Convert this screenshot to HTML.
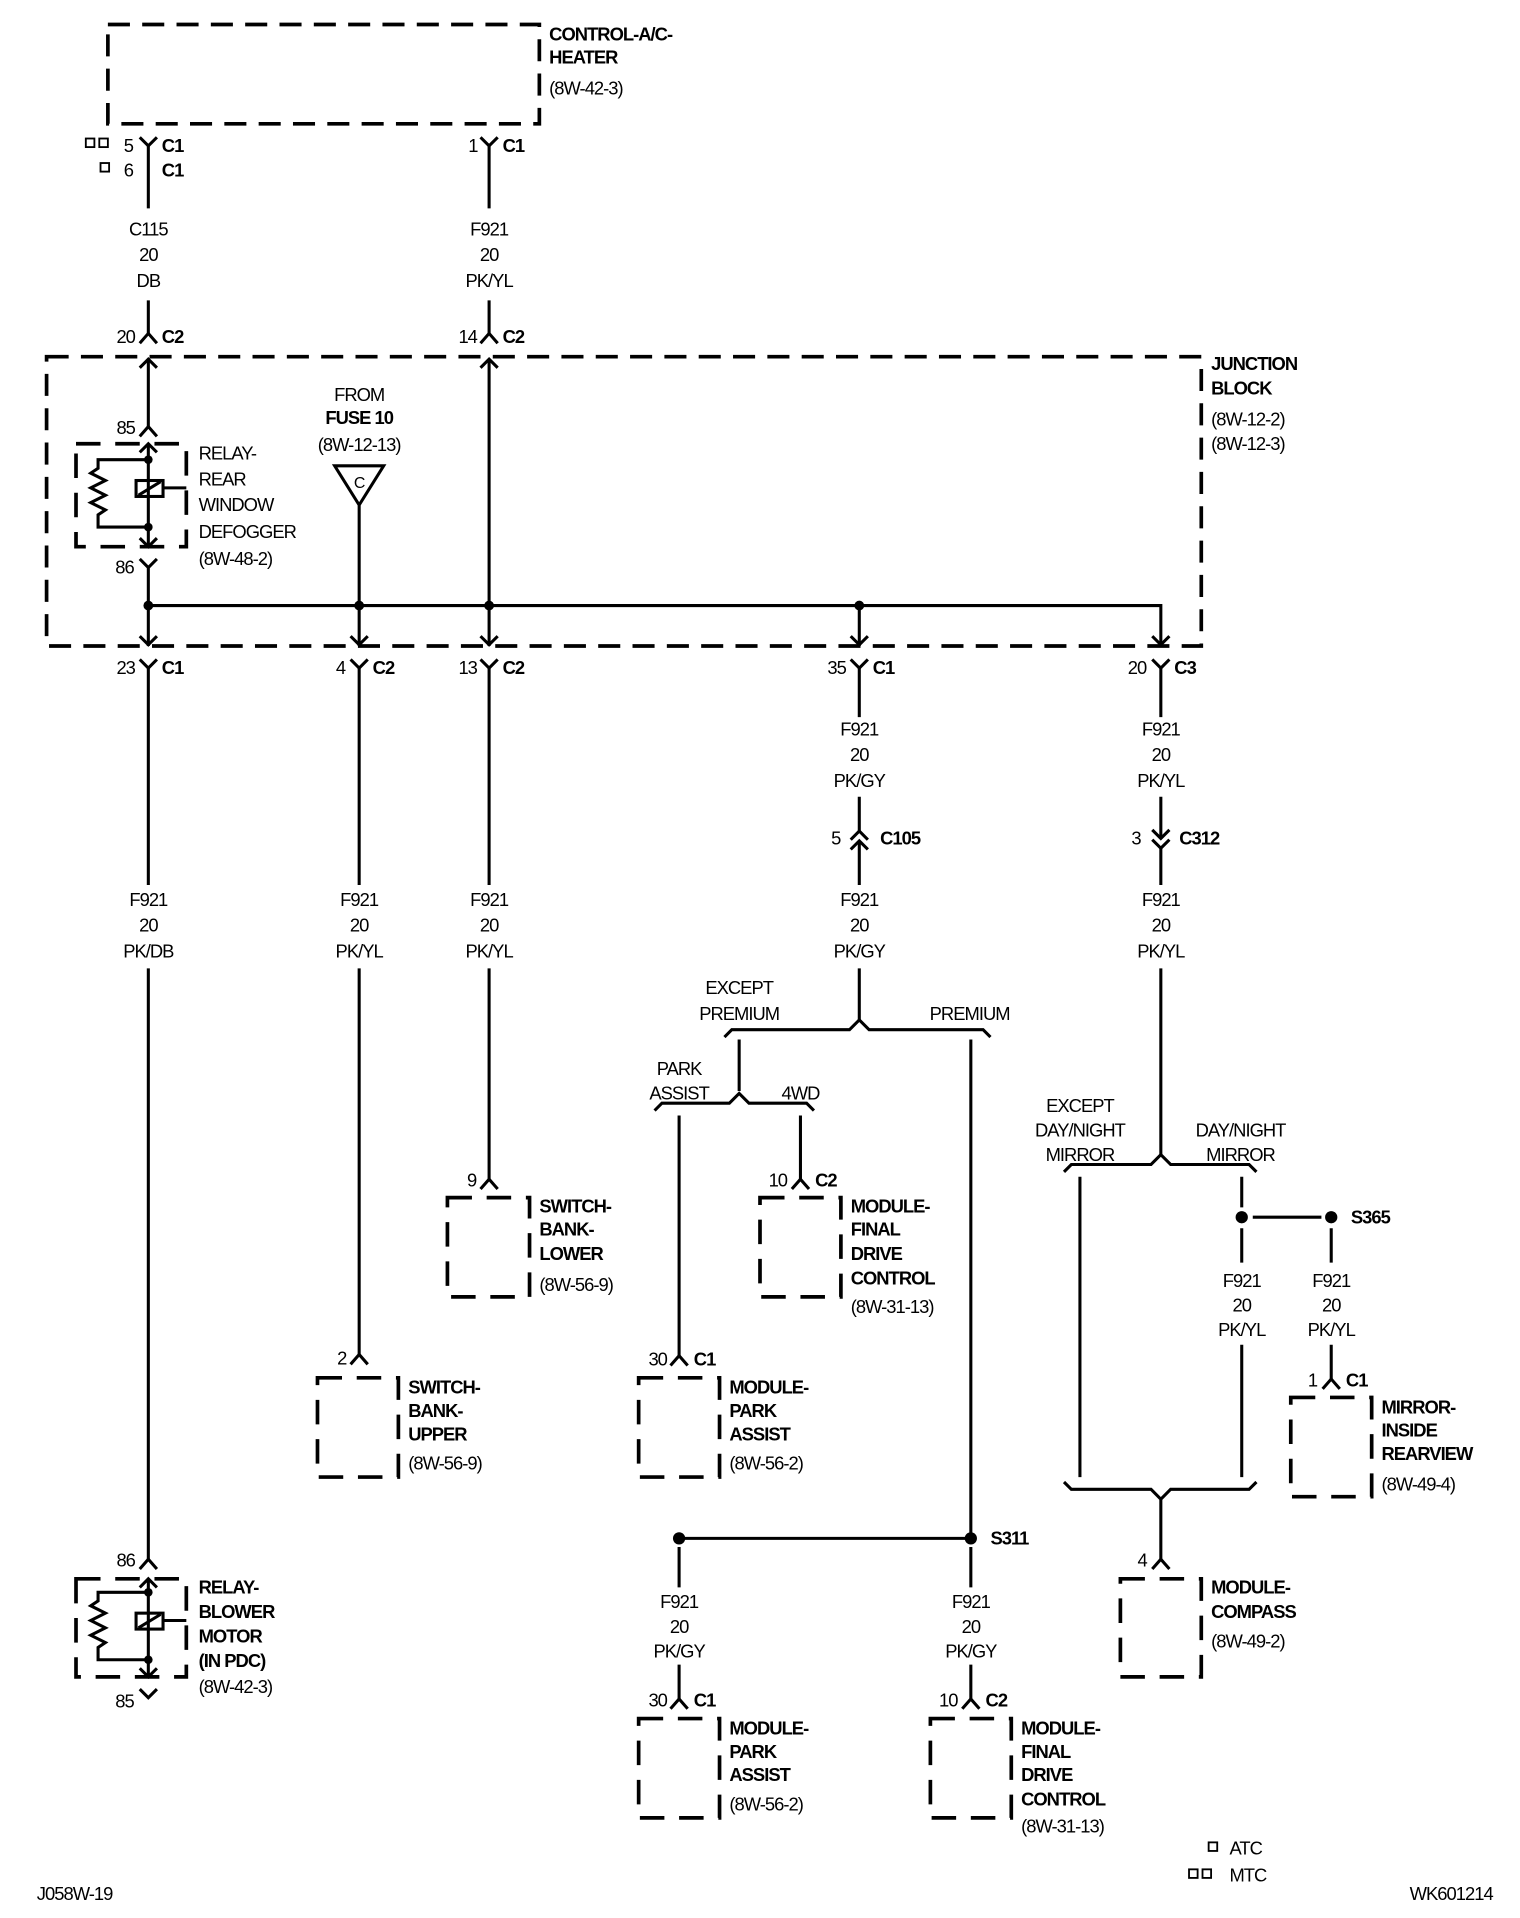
<!DOCTYPE html>
<html><head><meta charset="utf-8"><style>
html,body{margin:0;padding:0;background:#fff}
svg{display:block}
text{font-family:"Liberation Sans",Arial,sans-serif;font-size:15px;fill:#000;letter-spacing:-0.8px}
.b{font-weight:bold}
.c{text-anchor:middle}
</style></head><body>
<svg width="1520" height="1918" viewBox="0 0 1240 1564.7" xmlns="http://www.w3.org/2000/svg">
<g fill="none" stroke="#000" stroke-width="2.5">
<rect x="88" y="20" width="352" height="81" stroke-width="3" stroke-dasharray="18 10"/>
<rect x="38" y="291" width="942" height="236" stroke-width="3" stroke-dasharray="18 10"/>
<g stroke-width="3" stroke-dasharray="20 12">
<rect x="62" y="362" width="90" height="84"/>
<rect x="62" y="1288" width="90" height="80"/>
<rect x="259" y="1124" width="66" height="81"/>
<rect x="365" y="977" width="67" height="81"/>
<rect x="620" y="977" width="66" height="81"/>
<rect x="521" y="1124" width="66" height="81"/>
<rect x="521" y="1402" width="66" height="81"/>
<rect x="759" y="1402" width="66" height="81"/>
<rect x="1053" y="1140" width="66" height="81"/>
<rect x="914" y="1288" width="66" height="80"/>
</g>
<!-- top wires -->
<path d="M121,119 V170 M121,245 V272 M121,293 V348 M399,119 V170 M399,245 V272 M399,293 V527"/>
<path d="M114,112 L121,119 L128,112 M392,112 L399,119 L406,112"/>
<path d="M114,280 L121,272 L128,280 M392,280 L399,272 L406,280"/>
<path d="M114,300 L121,293 L128,300 M392,300 L399,293 L406,300"/>
<path d="M114,356 L121,348 L128,356"/>
<!-- relay top -->
<path d="M121,362 V446 M114,369 L121,362 L128,369 M114,439 L121,446 L128,439"/>
<path d="M121,375 H80 L80,382 L74,386 L86,392 L74,398 L86,404 L74,410 L86,416 L80,420 V430 H121"/>
<rect x="111" y="392" width="22" height="13"/>
<path d="M113,404 L131,393 M133,398 H152"/>
<path d="M114,456 L121,463 L128,456 M121,463 V527"/>
<path d="M273,380 H313 L293,412 Z M293,412 V527"/>
<path d="M121,494 H947 V527 M701,494 V527"/>
<path d="M114,519 L121,526 L128,519 M286,519 L293,526 L300,519 M392,519 L399,526 L406,519 M694,519 L701,526 L708,519 M940,519 L947,526 L954,519"/>
<path d="M114,538 L121,545 L128,538 M286,538 L293,545 L300,538 M392,538 L399,545 L406,538 M694,538 L701,545 L708,538 M940,538 L947,545 L954,538"/>
<path d="M121,545 V722 M121,790 V1272 M293,545 V722 M293,790 V1105 M399,545 V722 M399,790 V962"/>
<path d="M701,545 V585 M701,650 V678 M701,686 V722 M701,790 V832 M947,545 V585 M947,650 V684 M947,692 V722 M947,790 V942"/>
<path d="M694,685 L701,678 L708,685 M694,693 L701,686 L708,693"/>
<path d="M940,677 L947,684 L954,677 M940,685 L947,692 L954,685"/>
<path d="M114,1280 L121,1272 L128,1280 M286,1113 L293,1105 L300,1113 M392,970 L399,962 L406,970 M547,1114 L554,1106 L561,1114 M646,970 L653,962 L660,970 M547,1394 L554,1386 L561,1394 M785,1394 L792,1386 L799,1394 M1079,1133 L1086,1125 L1093,1133 M940,1280 L947,1272 L954,1280"/>
<path d="M121,1288 V1368 M114,1295 L121,1288 L128,1295 M114,1361 L121,1368 L128,1361"/>
<path d="M121,1299 H80 L80,1306 L74,1310 L86,1316 L74,1322 L86,1328 L74,1334 L86,1340 L80,1344 V1354 H121"/>
<rect x="111" y="1316" width="22" height="13"/>
<path d="M113,1328 L131,1317 M133,1322 H152"/>
<path d="M114,1378 L121,1385 L128,1378"/>
<path d="M591,846 L597,840 L693,840 L701,832 L709,840 L802,840 L808,846"/>
<path d="M603,848 V890 M792,848 V1255"/>
<path d="M534,906 L540,900 L595,900 L603,892 L611,900 L658,900 L664,906"/>
<path d="M554,910 V1106 M653,910 V962"/>
<path d="M554,1255 H792 M554,1262 V1295 M554,1358 V1386 M792,1262 V1295 M792,1358 V1386"/>
<path d="M868,956 L874,950 L939,950 L947,942 L955,950 L1019,950 L1025,956"/>
<path d="M881,960 V1205 M1013,960 V985 M1013,1002 V1030 M1013,1097 V1205 M1022,993 H1078 M1086,1002 V1030 M1086,1097 V1125"/>
<path d="M868,1209 L874,1215 L939,1215 L947,1223 L955,1215 L1019,1215 L1025,1209 M947,1223 V1272"/>
<g stroke-width="1.5"><rect x="70" y="113" width="7" height="7"/><rect x="81" y="113" width="7" height="7"/><rect x="82" y="133" width="7" height="7"/>
<rect x="986" y="1503" width="7" height="7"/><rect x="970" y="1525" width="7" height="7"/><rect x="981" y="1525" width="7" height="7"/></g>
</g>
<g fill="#000">
<circle cx="121" cy="375" r="3.5"/><circle cx="121" cy="430" r="3.5"/>
<circle cx="121" cy="1299" r="3.5"/><circle cx="121" cy="1354" r="3.5"/>
<circle cx="121" cy="494" r="4"/><circle cx="293" cy="494" r="4"/><circle cx="399" cy="494" r="4"/><circle cx="701" cy="494" r="4"/>
<circle cx="554" cy="1255" r="5"/><circle cx="792" cy="1255" r="5"/>
<circle cx="1013" cy="993" r="5"/><circle cx="1086" cy="993" r="5"/>
</g>
<text class="b" x="448" y="33">CONTROL-A/C-</text>
<text class="b" x="448" y="52">HEATER</text>
<text x="448" y="77">(8W-42-3)</text>
<text x="101" y="124">5</text><text class="b" x="132" y="124">C1</text>
<text x="101" y="144">6</text><text class="b" x="132" y="144">C1</text>
<text x="382" y="124">1</text><text class="b" x="410" y="124">C1</text>
<text class="c" x="121" y="192">C115</text><text class="c" x="121" y="213">20</text><text class="c" x="121" y="234">DB</text>
<text class="c" x="399" y="192">F921</text><text class="c" x="399" y="213">20</text><text class="c" x="399" y="234">PK/YL</text>
<text x="95" y="280">20</text><text class="b" x="132" y="280">C2</text>
<text x="374" y="280">14</text><text class="b" x="410" y="280">C2</text>
<text class="b" x="988" y="302">JUNCTION</text><text class="b" x="988" y="322">BLOCK</text>
<text x="988" y="347">(8W-12-2)</text><text x="988" y="367">(8W-12-3)</text>
<text class="c" x="293" y="327">FROM</text><text class="c b" x="293" y="346">FUSE 10</text><text class="c" x="293" y="368">(8W-12-13)</text>
<text class="c" x="293" y="398" style="font-size:13px">C</text>
<text x="95" y="354">85</text><text x="94" y="468">86</text>
<text x="162" y="375">RELAY-</text><text x="162" y="396">REAR</text><text x="162" y="417">WINDOW</text><text x="162" y="439">DEFOGGER</text><text x="162" y="461">(8W-48-2)</text>
<text x="95" y="550">23</text><text class="b" x="132" y="550">C1</text>
<text x="274" y="550">4</text><text class="b" x="304" y="550">C2</text>
<text x="374" y="550">13</text><text class="b" x="410" y="550">C2</text>
<text x="675" y="550">35</text><text class="b" x="712" y="550">C1</text>
<text x="920" y="550">20</text><text class="b" x="958" y="550">C3</text>
<text class="c" x="701" y="600">F921</text><text class="c" x="701" y="621">20</text><text class="c" x="701" y="642">PK/GY</text>
<text class="c" x="947" y="600">F921</text><text class="c" x="947" y="621">20</text><text class="c" x="947" y="642">PK/YL</text>
<text x="678" y="689">5</text><text class="b" x="718" y="689">C105</text>
<text x="923" y="689">3</text><text class="b" x="962" y="689">C312</text>
<text class="c" x="121" y="739">F921</text><text class="c" x="121" y="760">20</text><text class="c" x="121" y="781">PK/DB</text>
<text class="c" x="293" y="739">F921</text><text class="c" x="293" y="760">20</text><text class="c" x="293" y="781">PK/YL</text>
<text class="c" x="399" y="739">F921</text><text class="c" x="399" y="760">20</text><text class="c" x="399" y="781">PK/YL</text>
<text class="c" x="701" y="739">F921</text><text class="c" x="701" y="760">20</text><text class="c" x="701" y="781">PK/GY</text>
<text class="c" x="947" y="739">F921</text><text class="c" x="947" y="760">20</text><text class="c" x="947" y="781">PK/YL</text>
<text class="c" x="603" y="811">EXCEPT</text><text class="c" x="603" y="832">PREMIUM</text>
<text class="c" x="791" y="832">PREMIUM</text>
<text class="c" x="554" y="877">PARK</text><text class="c" x="554" y="897">ASSIST</text>
<text class="c" x="653" y="897">4WD</text>
<text class="c" x="881" y="907">EXCEPT</text><text class="c" x="881" y="927">DAY/NIGHT</text><text class="c" x="881" y="947">MIRROR</text>
<text class="c" x="1012" y="927">DAY/NIGHT</text><text class="c" x="1012" y="947">MIRROR</text>
<text x="381" y="968">9</text>
<text class="b" x="440" y="989">SWITCH-</text><text class="b" x="440" y="1008">BANK-</text><text class="b" x="440" y="1028">LOWER</text><text x="440" y="1053">(8W-56-9)</text>
<text x="627" y="968">10</text><text class="b" x="665" y="968">C2</text>
<text class="b" x="694" y="989">MODULE-</text><text class="b" x="694" y="1008">FINAL</text><text class="b" x="694" y="1028">DRIVE</text><text class="b" x="694" y="1048">CONTROL</text><text x="694" y="1071">(8W-31-13)</text>
<text class="b" x="1102" y="998">S365</text>
<text class="c" x="1013" y="1050">F921</text><text class="c" x="1013" y="1070">20</text><text class="c" x="1013" y="1090">PK/YL</text>
<text class="c" x="1086" y="1050">F921</text><text class="c" x="1086" y="1070">20</text><text class="c" x="1086" y="1090">PK/YL</text>
<text x="275" y="1113">2</text>
<text class="b" x="333" y="1137">SWITCH-</text><text class="b" x="333" y="1156">BANK-</text><text class="b" x="333" y="1175">UPPER</text><text x="333" y="1199">(8W-56-9)</text>
<text x="529" y="1114">30</text><text class="b" x="566" y="1114">C1</text>
<text class="b" x="595" y="1137">MODULE-</text><text class="b" x="595" y="1156">PARK</text><text class="b" x="595" y="1175">ASSIST</text><text x="595" y="1199">(8W-56-2)</text>
<text x="1067" y="1131">1</text><text class="b" x="1098" y="1131">C1</text>
<text class="b" x="1127" y="1153">MIRROR-</text><text class="b" x="1127" y="1172">INSIDE</text><text class="b" x="1127" y="1191">REARVIEW</text><text x="1127" y="1216">(8W-49-4)</text>
<text class="b" x="808" y="1260">S311</text>
<text x="95" y="1278">86</text>
<text class="b" x="162" y="1300">RELAY-</text><text class="b" x="162" y="1320">BLOWER</text><text class="b" x="162" y="1340">MOTOR</text><text class="b" x="162" y="1360">(IN PDC)</text><text x="162" y="1381">(8W-42-3)</text>
<text x="94" y="1393">85</text>
<text x="928" y="1278">4</text>
<text class="b" x="988" y="1300">MODULE-</text><text class="b" x="988" y="1320">COMPASS</text><text x="988" y="1344">(8W-49-2)</text>
<text class="c" x="554" y="1312">F921</text><text class="c" x="554" y="1332">20</text><text class="c" x="554" y="1352">PK/GY</text>
<text class="c" x="792" y="1312">F921</text><text class="c" x="792" y="1332">20</text><text class="c" x="792" y="1352">PK/GY</text>
<text x="529" y="1392">30</text><text class="b" x="566" y="1392">C1</text>
<text x="766" y="1392">10</text><text class="b" x="804" y="1392">C2</text>
<text class="b" x="595" y="1415">MODULE-</text><text class="b" x="595" y="1434">PARK</text><text class="b" x="595" y="1453">ASSIST</text><text x="595" y="1477">(8W-56-2)</text>
<text class="b" x="833" y="1415">MODULE-</text><text class="b" x="833" y="1434">FINAL</text><text class="b" x="833" y="1453">DRIVE</text><text class="b" x="833" y="1473">CONTROL</text><text x="833" y="1495">(8W-31-13)</text>
<text x="1003" y="1513">ATC</text><text x="1003" y="1535">MTC</text>
<text x="30" y="1550">J058W-19</text><text x="1150" y="1550">WK601214</text>
</svg>
</body></html>
